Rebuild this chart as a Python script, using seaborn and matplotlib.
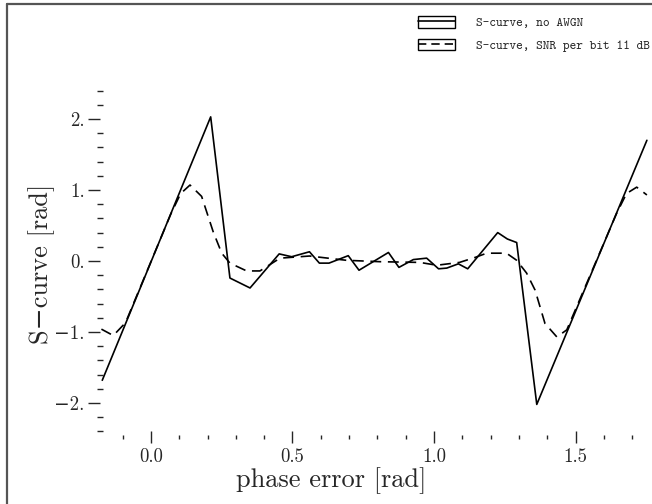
import numpy as np
import pandas as pd
import matplotlib
matplotlib.use("Agg")
import matplotlib.pyplot as plt
import seaborn as sns
from matplotlib.lines import Line2D
from matplotlib.patches import Patch
from matplotlib.ticker import MultipleLocator

# S-curve without noise (vertices)
phase_clean = [-0.172, 0.211, 0.279, 0.35, 0.453, 0.497, 0.56, 0.595, 0.629,
               0.697, 0.735, 0.839, 0.876, 0.927, 0.974, 1.016, 1.045, 1.086,
               1.119, 1.225, 1.259, 1.292, 1.363, 1.752]
s_clean = [-1.68, 2.03, -0.24, -0.38, 0.10, 0.06, 0.13, -0.03, -0.03,
           0.075, -0.13, 0.12, -0.09, 0.02, 0.04, -0.11, -0.10, -0.04,
           -0.11, 0.40, 0.31, 0.26, -2.02, 1.70]

# S-curve with SNR per bit 11 dB
phase_noisy = [-0.175, -0.133, -0.09, 0.07, 0.105, 0.138, 0.179, 0.22, 0.25,
               0.279, 0.338, 0.385, 0.456, 0.56, 0.69, 0.81, 0.95, 1.01,
               1.09, 1.145, 1.186, 1.256, 1.292, 1.327, 1.357, 1.392, 1.434,
               1.469, 1.645, 1.68, 1.716, 1.752]
s_noisy = [-0.96, -1.05, -0.87, 0.66, 0.95, 1.07, 0.91, 0.41, 0.11,
           -0.03, -0.14, -0.14, 0.04, 0.07, 0.01, -0.01, -0.02, -0.06,
           -0.02, 0.05, 0.11, 0.11, 0.01, -0.17, -0.41, -0.88, -1.07,
           -0.97, 0.67, 0.95, 1.04, 0.93]

labels = ["S-curve, no AWGN", "S-curve, SNR per bit 11 dB"]
x_ticks = [0.0, 0.5, 1.0, 1.5]
x_ticklabels = ["0.0", "0.5", "1.0", "1.5"]
y_ticks = [-2, -1, 0, 1, 2]
y_ticklabels = ["\u22122.", "\u22121.", "0.", "1.", "2."]

df = pd.concat([
    pd.DataFrame({"phase": phase_clean, "s": s_clean, "curve": labels[0]}),
    pd.DataFrame({"phase": phase_noisy, "s": s_noisy, "curve": labels[1]}),
])

sns.set_style("white")
plt.rcParams["font.family"] = ["cmr10", "DejaVu Serif"]
plt.rcParams["axes.unicode_minus"] = False

W, H = 652, 504
fig = plt.figure(figsize=(W / 100, H / 100), dpi=100)
# axes box in pixels: x 100..650, y 83.5..437
ax = fig.add_axes([100 / W, 1 - 437 / H, 550 / W, 353.5 / H])

sns.lineplot(data=df, x="phase", y="s", style="curve", sort=False,
             estimator=None, color="black", linewidth=1.2,
             dashes={labels[0]: "", labels[1]: (6.5, 4)}, legend=False, ax=ax)

ax.set_xlim(-0.180, 1.763)
ax.set_ylim(-2.479, 2.5)
for sp in ax.spines.values():
    sp.set_visible(False)

ax.set_xticks(x_ticks)
ax.set_xticklabels(x_ticklabels, fontsize=13.5)
ax.set_yticks(y_ticks)
ax.set_yticklabels(y_ticklabels, fontsize=13.5)
ax.xaxis.set_minor_locator(MultipleLocator(0.1))
ax.yaxis.set_minor_locator(MultipleLocator(0.2))
ax.tick_params(axis="x", which="major", direction="inout", length=8, width=1,
               pad=4, bottom=True)
ax.tick_params(axis="x", which="minor", direction="inout", length=3, width=1,
               bottom=True)
ax.tick_params(axis="y", which="major", direction="out", length=9, width=1,
               pad=2, left=True)
ax.tick_params(axis="y", which="minor", direction="inout", length=5, width=1,
               left=True)

ax.set_xlabel("phase error [rad]", fontsize=19)
ax.xaxis.set_label_coords(0.42, -0.085)
ax.set_ylabel("S\u2212curve [rad]", fontsize=19)
ax.yaxis.set_label_coords(-0.082, 0.49)

handles = [
    (Patch(facecolor="none", edgecolor="black", linewidth=1),
     Line2D([], [], color="black", linewidth=1.2)),
    (Patch(facecolor="none", edgecolor="black", linewidth=1),
     Line2D([], [], color="black", linewidth=1.2, dashes=(5, 3))),
]
fig.legend(handles, labels, loc="upper left",
           bbox_to_anchor=(406 / W, 1 - 5 / H), frameon=False,
           prop={"family": "cmtt10", "size": 9.2},
           handlelength=2.95, handleheight=0.95, handletextpad=1.6,
           labelspacing=0.75)

# outer frame (left and top edges visible)
fig.add_artist(Line2D([7 / W, 7 / W], [0, 1 - 4 / H], transform=fig.transFigure,
                      color="#555555", linewidth=1.6))
fig.add_artist(Line2D([7 / W, 1], [1 - 4 / H, 1 - 4 / H], transform=fig.transFigure,
                      color="#555555", linewidth=1.6))

fig.savefig("out.png", dpi=100)
